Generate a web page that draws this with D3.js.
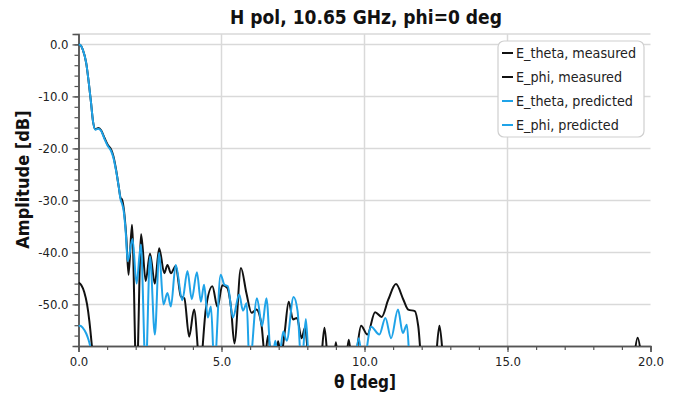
<!DOCTYPE html>
<html>
<head>
<meta charset="utf-8">
<script src="https://cdn.jsdelivr.net/npm/d3@7"></script>
<style>
  body { margin: 0; background: #fff; }
  svg text { font-family: "DejaVu Sans Condensed", "DejaVu Sans", sans-serif; }
</style>
</head>
<body>
<svg id="chart"></svg>
<script>
// E_theta, measured (black)
const etMeasTheta = [0, 0.06, 0.15, 0.27, 0.36, 0.44, 0.5, 0.59, 0.7, 0.79, 0.91, 1.02, 1.14, 1.22, 1.32, 1.41, 1.47, 1.52, 1.58, 1.67, 1.75, 1.87, 2.03, 2.19, 2.35, 2.5, 2.67, 2.82, 3.0, 3.11, 3.23, 3.4, 3.58, 3.7, 3.87, 4.04, 4.25, 4.45, 4.68, 4.86, 5.03, 5.2, 5.33, 5.45, 5.68, 5.87, 6.05, 6.22, 6.4, 6.52, 6.63, 6.73, 6.86, 6.98, 7.08, 7.2, 7.35, 7.5, 7.64, 7.8, 7.92, 8.08, 8.45, 8.6, 8.75, 8.9, 9.0, 9.1, 9.32, 9.45, 9.58, 9.7, 9.88, 10.1, 10.37, 10.6, 10.83, 11.1, 11.36, 11.53, 11.76, 11.88, 12.02, 12.45, 12.62, 12.8, 19.35, 19.55, 19.75, 20];
const etMeasAmp   = [0, -0.1, -1.0, -3.6, -7.4, -11.3, -14.5, -16.3, -16.1, -16.5, -18.0, -19.3, -20.2, -21.5, -24.3, -27.5, -29.5, -29.8, -31.5, -37, -44.3, -34.7, -65, -36.5, -45.5, -40.2, -46, -39.2, -44, -42.4, -44, -42.6, -48.5, -48.8, -56.2, -51, -62, -51, -46.5, -50.5, -46.3, -46.8, -50.5, -57.5, -43, -47.8, -51.6, -51, -54, -60, -56, -60, -61, -57.1, -60, -55.8, -49.5, -52.9, -52.6, -56.5, -54.5, -62, -62, -54.5, -62, -62, -57.3, -62, -62, -56.8, -62, -60, -54.1, -55.8, -51.5, -52.4, -49.1, -46.1, -49.1, -51, -51.3, -54.2, -62, -62, -54.1, -62, -62, -56.4, -62, -64];

// E_phi, measured (black)
const epMeasTheta = [0, 0.1, 0.2, 0.3, 0.38, 0.47, 0.55, 0.65];
const epMeasAmp   = [-45.8, -46.3, -47.6, -50.0, -53.2, -58.1, -63, -70];

// E_theta, predicted (blue)
const etPredTheta = [0, 0.06, 0.15, 0.27, 0.36, 0.44, 0.5, 0.59, 0.7, 0.79, 0.91, 1.02, 1.14, 1.22, 1.32, 1.41, 1.47, 1.52, 1.58, 1.65, 1.72, 1.89, 2.03, 2.18, 2.35, 2.5, 2.67, 2.82, 2.97, 3.11, 3.23, 3.4, 3.63, 3.81, 3.96, 4.14, 4.28, 4.39, 4.52, 4.63, 4.75, 4.97, 5.1, 5.22, 5.4, 5.62, 5.75, 5.88, 5.98, 6.24, 6.42, 6.57, 6.75, 6.88, 7.0, 7.16, 7.28, 7.52, 7.66, 7.8, 7.95, 8.08, 9.6, 9.8, 9.95, 10.23, 10.52, 10.73, 10.93, 11.17, 11.34, 11.48, 11.6, 12, 20];
const etPredAmp   = [0, -0.1, -1.0, -3.6, -7.4, -11.3, -14.5, -16.4, -16.2, -16.6, -18.2, -19.5, -20.5, -21.8, -24.5, -27.5, -29.8, -30.6, -32.0, -36, -41.7, -37.4, -46, -38.5, -63, -40.8, -55.8, -40.1, -50, -47.8, -50.4, -42.4, -49.2, -43.6, -49, -43.8, -49.5, -46.2, -52.5, -50.4, -62, -44.3, -46.2, -46.5, -52.5, -48.1, -51.2, -49.8, -62, -48.8, -54.2, -48.8, -62, -57, -61, -55.2, -57, -48.6, -51.3, -62, -52.8, -63, -63, -56.5, -62, -54.3, -55.8, -52.6, -56.5, -51, -55.5, -53.9, -62, -64, -64];

// E_phi, predicted (blue)
const epPredTheta = [0, 0.06, 0.15, 0.27, 0.35, 0.42, 0.5, 0.6];
const epPredAmp   = [-54.2, -54.1, -54.5, -55.6, -56.8, -58.3, -61, -68];

const legendLabels = ["E_theta, measured", "E_phi, measured", "E_theta, predicted", "E_phi, predicted"];
const xTicks = [0, 5, 10, 15, 20];
const yTicks = [0, -10, -20, -30, -40, -50];

const black = "#111111", blue = "#1fa3e8";

const width = 688, height = 394;
const margin = {top: 34, right: 37.5, bottom: 48, left: 78.5};
const iw = width - margin.left - margin.right;
const ih = height - margin.top - margin.bottom;

const svg = d3.select("#chart").attr("width", width).attr("height", height);

const x = d3.scaleLinear().domain([0, 20]).range([0, iw]);
const y = d3.scaleLinear().domain([-58, 2]).range([ih, 0]);

svg.append("defs").append("clipPath").attr("id", "plotclip")
  .append("rect").attr("width", iw).attr("height", ih);

const g = svg.append("g").attr("transform", "translate(" + margin.left + "," + margin.top + ")");

// gridlines
g.append("g").selectAll("line").data(yTicks).enter().append("line")
  .attr("x1", 0).attr("x2", iw)
  .attr("y1", d => y(d)).attr("y2", d => y(d))
  .attr("stroke", "#d9d9d9").attr("stroke-width", 1.5);
g.append("g").selectAll("line").data(xTicks.slice(1, -1)).enter().append("line")
  .attr("x1", d => x(d)).attr("x2", d => x(d))
  .attr("y1", 0).attr("y2", ih)
  .attr("stroke", "#d9d9d9").attr("stroke-width", 1.5);
g.append("line").attr("x1", 0).attr("x2", iw).attr("y1", 0).attr("y2", 0)
  .attr("stroke", "#d9d9d9").attr("stroke-width", 1.5);

// axes
const fmt = v => v.toFixed(1);
const xAxis = g.append("g").attr("transform", "translate(0," + ih + ")")
  .call(d3.axisBottom(x).tickValues(xTicks).tickFormat(fmt).tickSize(6).tickPadding(5));
const xMinor = g.append("g").attr("transform", "translate(0," + ih + ")")
  .call(d3.axisBottom(x).tickValues(d3.range(0, 21, 1)).tickFormat("").tickSize(4).tickSizeOuter(0));
const yAxis = g.append("g")
  .call(d3.axisLeft(y).tickValues(yTicks).tickFormat(fmt).tickSize(6).tickPadding(4));
const yMinor = g.append("g")
  .call(d3.axisLeft(y).tickValues(d3.range(-58, 2.1, 2)).tickFormat("").tickSize(4).tickSizeOuter(0));

[xAxis, xMinor, yAxis, yMinor].forEach(a => {
  a.selectAll("path").attr("stroke", "#555").attr("stroke-width", 1.5);
  a.selectAll("line").attr("stroke", "#555").attr("stroke-width", 1.2);
  a.selectAll("text").attr("fill", "#222").style("font-size", "13px");
});

// curves: measured first, predicted drawn over them
const series = [
  {t: epMeasTheta, a: epMeasAmp, c: black},
  {t: etMeasTheta, a: etMeasAmp, c: black},
  {t: epPredTheta, a: epPredAmp, c: blue},
  {t: etPredTheta, a: etPredAmp, c: blue}
];
const line = d3.line().x(d => x(d[0])).y(d => y(d[1])).curve(d3.curveMonotoneX);
const plot = g.append("g").attr("clip-path", "url(#plotclip)");
series.forEach(s => {
  plot.append("path")
    .datum(s.t.map((t, i) => [t, s.a[i]]))
    .attr("fill", "none")
    .attr("stroke", s.c)
    .attr("stroke-width", 2)
    .attr("stroke-linejoin", "round")
    .attr("d", line);
});

// title and axis labels
svg.append("text").attr("x", 366).attr("y", 24).attr("text-anchor", "middle")
  .style("font-size", "19px").style("font-weight", "bold").attr("fill", "#111")
  .text("H pol, 10.65 GHz, phi=0 deg");
svg.append("text").attr("x", 365).attr("y", 388).attr("text-anchor", "middle")
  .style("font-size", "17px").style("font-weight", "bold").attr("fill", "#111")
  .text("θ [deg]");
svg.append("text").attr("transform", "translate(29," + (margin.top + y(-26)) + ") rotate(-90)")
  .attr("text-anchor", "middle")
  .style("font-size", "18px").style("font-weight", "bold").attr("fill", "#111")
  .text("Amplitude [dB]");

// legend
const lg = svg.append("g").attr("transform", "translate(498,41)");
lg.append("rect").attr("width", 146).attr("height", 96).attr("rx", 6)
  .attr("fill", "#fff").attr("stroke", "#cfcfcf").attr("stroke-width", 1.2);
const colors = [black, black, blue, blue];
legendLabels.forEach((lab, i) => {
  const row = lg.append("g").attr("transform", "translate(0," + (12 + i * 24) + ")");
  row.append("line").attr("x1", 4).attr("x2", 15).attr("y1", 0).attr("y2", 0)
    .attr("stroke", colors[i]).attr("stroke-width", 2);
  row.append("text").attr("x", 18).attr("y", 5)
    .style("font-size", "14.2px").attr("fill", "#222").text(lab);
});
</script>
</body>
</html>
